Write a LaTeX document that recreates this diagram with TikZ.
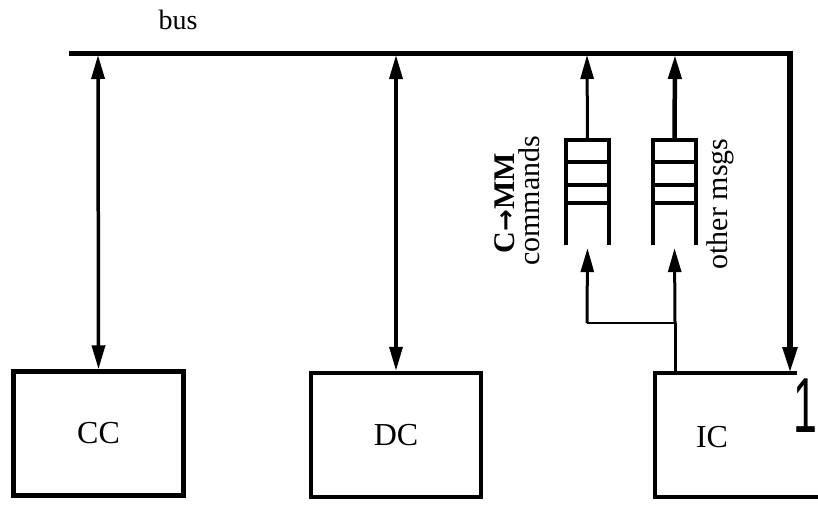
\documentclass[tikz,border=0pt]{standalone}
\usepackage{fontspec}
\setmainfont{Liberation Serif}
\newfontfamily\onefont{Liberation Sans}
\newfontfamily\arrfont{DejaVu Sans}
\usetikzlibrary{arrows.meta,calc}
\begin{document}
\begin{tikzpicture}[x=1pt,y=-1pt,
  boxline/.style={line width=4.5pt},
  modbox/.style={draw, line width=4.5pt, minimum width=170pt, minimum height=124pt, inner sep=0pt,
    font=\fontsize{32}{32}\selectfont},
  conn/.style={line width=3.5pt, arrows={-Triangle[length=24pt,width=13pt]}},
  dconn/.style={line width=3.5pt, arrows={Triangle[length=24pt,width=13pt]-Triangle[length=24pt,width=13pt]}},
  qline/.style={line width=3.5pt},
  lbl/.style={font=\fontsize{30}{30}\selectfont, inner sep=0pt},
  hidden/.style={minimum width=43pt, minimum height=105pt, inner sep=0pt},
 ]
\useasboundingbox (0,0) rectangle (818,504);

% bus
\node[lbl, font=\fontsize{28}{28}\selectfont] (buslbl) at (178,20) {bus};
\coordinate (busL) at (69,53);
\coordinate (busR) at (792,53);
\draw[line width=5pt] (busL) -- (busR);

% boxes
\node[modbox] (cc) at (98.5,433.5) {CC};
\node[modbox] (dc) at (396,435) {DC};
\node[font=\fontsize{32}{32}\selectfont, inner sep=0pt] (ic) at (712,437) {IC};
\coordinate (icTR) at (797,373);
\coordinate (icTL) at (655,373);
\coordinate (icBL) at (655,497);
\coordinate (icBR) at (818,497);
\draw[boxline] (icTR) -- (icTL) -- (icBL) -- (icBR);

% bus to boxes
\coordinate (ccB) at (98,55);
\coordinate (dcB) at (396,55);
\draw[dconn] (ccB) -- (cc.north);
\draw[dconn] (dcB) -- (dc.north);
\coordinate (rB) at (790,50.5);
\coordinate (rE) at (790,373);
\draw[line width=5.5pt, arrows={-Triangle[length=26pt,width=14pt]}] (rB) -- (rE);

% queues
\node[hidden] (q1) at (587.5,192.5) {};
\node[hidden] (q2) at (674.5,192.5) {};
\foreach \q in {q1,q2}{
  \draw[qline] (\q.south west) -- (\q.north west) -- (\q.north east) -- (\q.south east);
  \draw[qline] ($(\q.north west)+(0,22)$) -- ($(\q.north east)+(0,22)$);
  \draw[qline] ($(\q.north west)+(0,45)$) -- ($(\q.north east)+(0,45)$);
  \draw[qline] ($(\q.north west)+(0,63)$) -- ($(\q.north east)+(0,63)$);
}
\coordinate (b1) at (587,55);
\coordinate (b2) at (675,55);
\draw[conn, line width=3pt] (q1.north) -- (b1);
\draw[conn, line width=4.5pt] (q2.north) -- (b2);

% IC to queues
\coordinate (icT) at (675,373);
\coordinate (jR) at (675,323);
\coordinate (jL) at (587,323);
\draw[line width=3pt] (icT) -- (jR);
\draw[line width=2.5pt] (jR) -- (jL);
\draw[conn, line width=3pt, shorten >=3pt] (jR) -- (q2.south);
\draw[conn, line width=3pt, shorten >=3pt] (jL) -- (q1.south);

% labels
\node[lbl, rotate=90, font=\fontsize{30}{30}\selectfont\bfseries] (cmm) at (505,203) {C{\arrfont\bfseries\fontsize{26}{26}\selectfont →}MM};
\node[lbl, rotate=90] (cmds) at (529,201) {commands};
\node[lbl, rotate=90] (other) at (720,204) {other msgs};
\node[inner sep=0pt, anchor=base east, font=\fontsize{78}{78}\selectfont\onefont] (one) at (818,432) {\scalebox{0.55}[1]{1}};
\end{tikzpicture}
\end{document}
